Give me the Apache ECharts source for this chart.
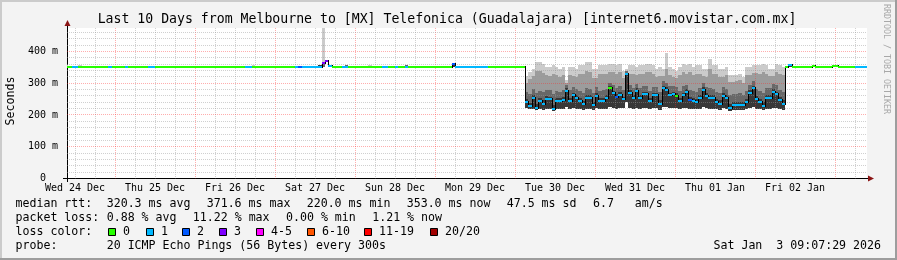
<!DOCTYPE html>
<html><head><meta charset="utf-8">
<script src="https://cdn.jsdelivr.net/npm/echarts@6/dist/echarts.min.js"></script>
<style>html,body{margin:0;padding:0;background:#f3f3f3}#c{width:897px;height:260px}</style>
</head><body><div id="c"></div>
<script>
// ---------- DATA (hours counted from Wed 24 Dec 00:00) ----------
const firstHour = 9;
const medianRtt = [
 352,352,352,352,352,352,352,352,352,352,352,352,352,352,352,
 352,352,352,352,352,352,352,352,352,352,352,352,352,352,352,352,352,352,352,352,352,352,352,352,
 352,352,352,352,352,352,352,352,352,352,352,352,352,352,352,352,352,352,352,352,352,352,352,352,
 352,352,352,352,352,352,352,352,352,352,352,352,352,352,363,371,354,352,352,352,352,352,352,352,
 352,352,352,352,352,352,352,352,352,352,352,352,352,352,352,352,352,352,352,352,352,352,352,352,
 352,352,352,352,352,360,352,352,352,352,352,352,352,352,352,352,352,352,352,352,352,352,352,352,
 352,352,352,241,228,254,223,245,235,251,251,220,245,245,248,276,245,262,254,245,235,254,254,231,
 261,245,245,254,285,268,257,264,250,330,270,254,276,254,265,265,245,262,262,235,285,280,262,265,
 260,245,262,273,248,243,242,254,279,260,254,254,242,235,260,254,221,231,231,231,231,242,270,285,
 251,242,227,254,254,274,266,248,235,352,356,352,352,352,352,352,352,355,352,352,352,352,352,355,
 354,352,352,352,352,352,352,352,352,352
];
const medianLoss = [
 0,0,1,1,0,0,0,0,0,0,0,0,0,1,0,
 0,0,0,1,0,0,0,0,0,0,1,1,0,0,0,0,0,0,0,0,0,0,0,0,
 0,0,0,0,0,0,0,0,0,0,0,0,0,0,0,1,1,0,0,0,0,0,0,0,
 0,0,0,0,0,0,1,2,1,1,1,1,1,1,3,3,1,0,0,0,1,1,0,0,
 0,0,0,0,0,0,0,0,1,1,0,0,1,0,0,1,0,0,0,0,0,0,0,0,
 0,0,0,0,0,2,1,1,1,1,1,1,1,1,1,1,0,0,0,0,0,0,0,0,
 0,0,0,1,1,1,1,1,1,1,1,1,1,1,1,1,1,1,1,1,1,1,1,1,
 1,1,1,1,0,1,2,1,1,1,1,1,1,1,1,1,1,1,1,1,1,1,1,1,
 0,1,1,1,2,1,1,1,1,1,1,1,1,1,1,1,1,1,1,1,1,1,1,1,
 1,1,1,1,1,1,1,1,1,0,1,0,0,0,0,0,0,0,0,0,0,0,0,0,
 0,0,0,0,0,0,1,1,1,1
];
// smoke (spread of the 20 pings) during the slow stretch, one column per hour
const bandFirstHour = 147;
const bandMin = [222,218,220,216,218,217,219,220,214,218,219,220,224,219,221,220,218,217,219,220,216,221,219,218,220,
 225,222,220,221,222,240,222,220,223,220,221,222,219,221,221,217,225,224,221,222,221,219,221,223,219,218,
 218,220,224,221,220,220,218,217,221,220,214,216,216,216,216,218,222,225,219,218,215,220,220,223,222,219,217];
const bandQ1 = [250,238,262,234,254,246,260,258,232,254,253,257,284,254,270,262,254,245,263,262,242,270,254,254,262,
 290,276,265,272,258,333,278,262,284,262,273,273,254,270,270,246,292,288,270,273,268,254,270,281,257,252,
 251,262,287,268,262,262,251,246,268,262,234,242,242,242,242,251,278,292,260,251,240,262,262,282,274,257,246];
const bandQ2 = [272,266,282,268,276,272,280,278,266,276,274,278,296,278,288,282,276,270,284,282,270,288,276,278,282,
 302,294,286,290,278,337,296,284,298,284,292,292,276,288,288,272,306,302,290,292,288,276,290,296,280,276,
 274,284,300,288,284,282,274,270,288,282,262,266,266,268,264,276,294,306,282,276,270,284,284,298,294,280,272];
const bandQ3 = [300,312,322,340,338,332,325,322,328,325,320,326,300,326,324,320,330,328,340,336,318,318,330,328,330,
 336,334,330,334,318,340,330,330,326,330,330,336,334,330,320,324,322,345,326,320,316,326,336,330,336,326,
 330,330,322,320,345,330,330,320,320,326,305,305,306,310,302,326,326,332,332,330,336,330,322,322,336,330,326];
const bandMax = [322,335,346,367,367,361,351,351,356,350,346,352,310,351,351,346,356,356,367,367,346,346,356,356,356,
 361,361,356,361,340,345,356,356,351,356,356,361,361,356,346,351,346,394,351,346,340,351,361,356,361,351,
 356,356,346,346,377,356,356,346,346,351,325,325,325,330,320,351,351,356,356,356,361,356,346,346,361,356,351];
// isolated smoke specks during the normal stretches
const spotHour = [9, 13, 65, 85, 86, 93, 100, 111, 125, 226];
const spotMin  = [350,350,350,350,350,350,350,350,350,350];
const spotQ1   = [352,352,352,356,352,355,352,355,358,356];
const spotQ2   = [352,352,352,358,365,356,352,356,362,358];
const spotQ3   = [352,352,352,358,365,356,352,356,362,358];
const spotMax  = [357,359,358,358,520,356,358,356,362,358];

const dayLabels = ['Wed 24 Dec','Thu 25 Dec','Fri 26 Dec','Sat 27 Dec','Sun 28 Dec','Mon 29 Dec','Tue 30 Dec','Wed 31 Dec','Thu 01 Jan','Fri 02 Jan'];
const yTicks = [0, 100, 200, 300, 400];
const lossColors = ['#26ff00','#00b8ff','#0059ff','#7e00ff','#ff00ff','#ff5500','#ff0000','#a10000'];
const lossLabels = ['0','1','2','3','4-5','6-10','11-19','20/20'];

// ---------- CHART ----------
const X_MIN = 9.6, X_MAX = 249.6, Y_MAX = 474;
const MONO = '"DejaVu Sans Mono", monospace';
const MINOR = 'rgba(150,150,150,0.45)', MAJOR = 'rgba(255,40,40,0.38)';
const chart = echarts.init(document.getElementById('c'), null, {renderer:'canvas', width:897, height:260});

const medianData = medianRtt.map((v, i) => [firstHour + i, v, medianLoss[i], i > 0 ? medianRtt[i-1] : v]);
const smokeData = [];
spotHour.forEach((h, i) => smokeData.push([h, spotMin[i], spotQ1[i], spotQ2[i], spotQ3[i], spotMax[i]]));
bandMin.forEach((m, i) => smokeData.push([bandFirstHour + i, m, bandQ1[i], bandQ2[i], bandQ3[i], bandMax[i]]));
const vGrid = []; for (let h = 12; h < X_MAX; h += 6) vGrid.push([h, 0, h % 24 === 0 ? 1 : 0]);
const hGrid = []; for (let v = 20; v < Y_MAX; v += 20) hGrid.push([X_MIN, v, v % 100 === 0 ? 1 : 0]);

function renderSmoke(params, api) {
  const h = api.value(0);
  const xa = Math.round(api.coord([h, 0])[0]), xb = Math.round(api.coord([h + 1, 0])[0]);
  const vals = [api.value(1), api.value(2), api.value(3), api.value(4), api.value(5)];
  const cols = ['#383838', '#686868', '#9c9c9c', '#cbcbcb'];
  const ch = [];
  for (let k = 0; k < 4; k++) {
    const yb = Math.round(api.coord([h, vals[k]])[1]);
    const yt = Math.round(api.coord([h, vals[k + 1]])[1]);
    if (yb - yt > 0) ch.push({type:'rect', shape:{x:xa, y:yt, width:xb - xa, height:yb - yt}, style:{fill:cols[k]}});
  }
  return {type:'group', children:ch};
}
function renderMedian(params, api) {
  const h = api.value(0), v = api.value(1), loss = api.value(2), pv = api.value(3);
  const xa = Math.round(api.coord([h, v])[0]), xb = Math.round(api.coord([h + 1, v])[0]);
  const y = Math.round(api.coord([h, v])[1]);
  const ch = [];
  if (pv !== v) {
    const yp = Math.round(api.coord([h, pv])[1]);
    ch.push({type:'rect', shape:{x:xa, y:Math.min(y, yp) - 1, width:1, height:Math.abs(y - yp) + 2}, style:{fill:'#000'}});
  }
  ch.push({type:'rect', shape:{x:xa, y:y - 1, width:xb - xa, height:2}, style:{fill:lossColors[loss]}});
  return {type:'group', children:ch};
}
function renderV(params, api) {
  const h = api.value(0);
  const t = api.coord([h, Y_MAX]), b = api.coord([h, 0]);
  const x = Math.round(t[0] - 0.5) + 0.5;
  return {type:'line', shape:{x1:x, y1:t[1], x2:x, y2:b[1]}, style:{stroke: api.value(2) ? MAJOR : MINOR, lineWidth:1, lineDash:[1,1]}};
}
function renderH(params, api) {
  const v = api.value(1);
  const l = api.coord([X_MIN, v]), r = api.coord([X_MAX, v]);
  const y = Math.round(l[1] - 0.5) + 0.5;
  return {type:'line', shape:{x1:l[0], y1:y, x2:r[0], y2:y}, style:{stroke: api.value(2) ? MAJOR : MINOR, lineWidth:1, lineDash:[1,1]}};
}

function txt(x, y, s, opt) {
  opt = opt || {};
  return {type:'text', x:x, y:y, rotation:opt.rot || 0, silent:true, z:100,
    style:{text:s, fontFamily:MONO, fontSize:opt.size || 11.6, fill:opt.color || '#000',
      align:opt.align || 'left', textAlign:opt.align || 'left', verticalAlign:'middle', textVerticalAlign:'middle'}};
}
const graphics = [
  {type:'rect', shape:{x:0, y:0, width:897, height:2}, style:{fill:'#cbcbcb'}, silent:true},
  {type:'rect', shape:{x:0, y:0, width:2, height:260}, style:{fill:'#cbcbcb'}, silent:true},
  {type:'rect', shape:{x:0, y:258, width:897, height:2}, style:{fill:'#9d9d9d'}, silent:true},
  {type:'rect', shape:{x:895, y:0, width:2, height:260}, style:{fill:'#9d9d9d'}, silent:true},
  {type:'line', shape:{x1:63, y1:178.5, x2:67, y2:178.5}, style:{stroke:'#000', lineWidth:1}, silent:true},
  {type:'line', shape:{x1:67.5, y1:178, x2:67.5, y2:182}, style:{stroke:'#000', lineWidth:1}, silent:true},
  {type:'line', shape:{x1:67.5, y1:25, x2:67.5, y2:28}, style:{stroke:'#000', lineWidth:1}, silent:true},
  {type:'line', shape:{x1:867, y1:178.5, x2:869, y2:178.5}, style:{stroke:'#000', lineWidth:1}, silent:true},
  {type:'polygon', shape:{points:[[67.5,20],[64.5,26],[70.5,26]]}, style:{fill:'#8b1515'}, silent:true},
  {type:'polygon', shape:{points:[[874,178.5],[868,175.5],[868,181.5]]}, style:{fill:'#8b1515'}, silent:true},
  txt(447, 19.5, 'Last 10 Days from Melbourne to [MX] Telefonica (Guadalajara) [internet6.movistar.com.mx]', {size:13.2, align:'center'}),
  txt(10.5, 101, 'Seconds', {rot:Math.PI/2, align:'center'}),
  txt(886, 59, 'RRDTOOL / TOBI OETIKER', {rot:-Math.PI/2, align:'center', size:8.3, color:'#a8a8a8'}),
  txt(15.5, 204, 'median rtt:'), txt(106.7, 204, '320.3 ms avg'), txt(206.7, 204, '371.6 ms max'),
  txt(306.7, 204, '220.0 ms min'), txt(406.7, 204, '353.0 ms now'), txt(506.7, 204, '47.5 ms sd'),
  txt(593, 204, '6.7'), txt(634.8, 204, 'am/s'),
  txt(15.5, 218, 'packet loss:'), txt(106.7, 218, '0.88 % avg'), txt(192.8, 218, '11.22 % max'),
  txt(286, 218, '0.00 % min'), txt(372.2, 218, '1.21 % now'),
  txt(15.5, 232, 'loss color:'),
  txt(15.5, 246, 'probe:'), txt(106.7, 246, '20 ICMP Echo Pings (56 Bytes) every 300s'),
  txt(881, 246, 'Sat Jan  3 09:07:29 2026', {align:'right'})
];
const sqX = [108, 146, 182, 219, 256, 307, 364, 430];
lossLabels.forEach((lab, i) => {
  graphics.push({type:'rect', shape:{x:sqX[i] + 0.5, y:228.5, width:7, height:7}, style:{fill:lossColors[i], stroke:'#000', lineWidth:1}, silent:true});
  graphics.push(txt(sqX[i] + 15, 232, lab));
});

chart.setOption({
  animation:false,
  backgroundColor:'#f3f3f3',
  grid:{left:67, top:28, width:800, height:150.5, show:true, backgroundColor:'#ffffff', borderWidth:0},
  xAxis:{type:'value', min:X_MIN, max:X_MAX,
    axisLine:{show:true, onZero:false, lineStyle:{color:'#000', width:1}},
    axisTick:{show:false}, splitLine:{show:false},
    axisLabel:{customValues: dayLabels.map((d, i) => 12 + 24 * i),
      formatter:(v) => dayLabels[Math.round((v - 12) / 24)] || '',
      fontFamily:MONO, fontSize:10, color:'#000', margin:5}},
  yAxis:{type:'value', min:0, max:Y_MAX,
    axisLine:{show:true, lineStyle:{color:'#000', width:1}},
    axisTick:{show:false}, splitLine:{show:false},
    axisLabel:{customValues:yTicks, formatter:(v) => v === 0 ? '0  ' : v + ' m',
      fontFamily:MONO, fontSize:10, color:'#000', margin:9}},
  series:[
    {type:'custom', name:'smoke', renderItem:renderSmoke, data:smokeData, encode:{x:0, y:1}, clip:true, silent:true, z:1},
    {type:'custom', name:'vgrid', renderItem:renderV, data:vGrid, encode:{x:0, y:1}, silent:true, z:2},
    {type:'custom', name:'hgrid', renderItem:renderH, data:hGrid, encode:{x:0, y:1}, silent:true, z:2},
    {type:'custom', name:'median', renderItem:renderMedian, data:medianData, encode:{x:0, y:1}, clip:true, silent:true, z:3}
  ],
  graphic:graphics
});
</script></body></html>
